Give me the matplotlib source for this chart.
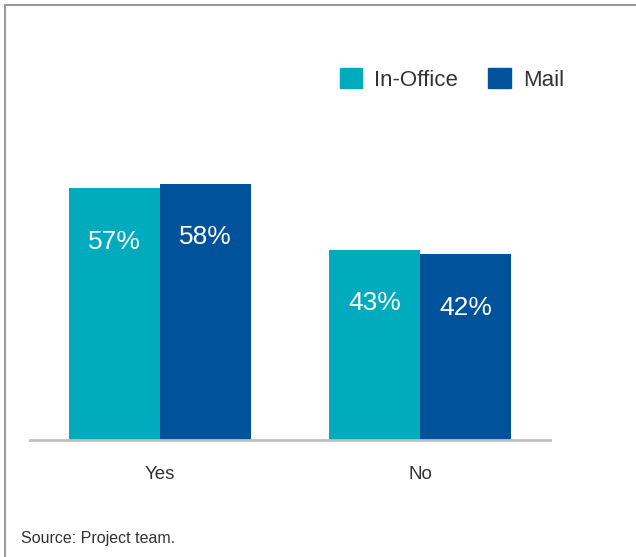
import numpy as np
import matplotlib
matplotlib.use("Agg")
from matplotlib import pyplot as plt
from matplotlib.patches import Patch
from matplotlib.lines import Line2D

categories = ["Yes", "No"]
in_office = [57, 43]
mail = [58, 42]
series_names = ["In-Office", "Mail"]
colors = ["#00abbd", "#00529b"]

plt.rcParams["font.family"] = ["Liberation Sans", "DejaVu Sans"]

W, H = 636, 557
fig = plt.figure(figsize=(W / 100, H / 100), dpi=100)

# axes placed in pixel terms: x 30..550, baseline at y=440
ax = fig.add_axes([30 / W, (H - 440) / H, 520 / W, 442 / H])
x = np.arange(len(categories))
w = 0.35
b1 = ax.bar(x - w / 2, in_office, w, color=colors[0])
b2 = ax.bar(x + w / 2, mail, w, color=colors[1])
ax.set_xlim(-0.5, 1.5)
ax.set_ylim(0, 100)

for bars, vals in [(b1, in_office), (b2, mail)]:
    for r, v in zip(bars, vals):
        ax.annotate(f"{v}%", (r.get_x() + r.get_width() / 2, v),
                    xytext=(0, -38.5), textcoords="offset points",
                    ha="center", va="center", color="white", fontsize=19)

for s in ["top", "right", "left"]:
    ax.spines[s].set_visible(False)
ax.spines["bottom"].set_color("#c0c0c0")
ax.spines["bottom"].set_linewidth(2)
ax.set_yticks([])
ax.set_xticks(x)
ax.set_xticklabels(categories, fontsize=13.5, color="#333333")
ax.tick_params(axis="x", length=0, pad=19)

handles = [Patch(color=c) for c in colors]
fig.legend(handles, series_names, loc="upper left", ncol=2, frameon=False,
           bbox_to_anchor=(340 / W, 1 - 68 / H), borderpad=0, borderaxespad=0,
           handlelength=1.0, handleheight=1.0, handletextpad=0.55,
           columnspacing=1.35, fontsize=16, labelcolor="#333333")

fig.text(21 / W, 1 - 538 / H, "Source: Project team.", fontsize=11.5,
         family=["Liberation Sans Narrow", "Liberation Sans"], color="#333333",
         va="center", ha="left")

# frame lines on left and top
fig.add_artist(Line2D([5 / W, 5 / W], [0, 1 - 5 / H], color="#999999", lw=1.5))
fig.add_artist(Line2D([5 / W, 1], [1 - 5 / H, 1 - 5 / H], color="#999999", lw=1.5))

fig.savefig("out.png", dpi=100)
